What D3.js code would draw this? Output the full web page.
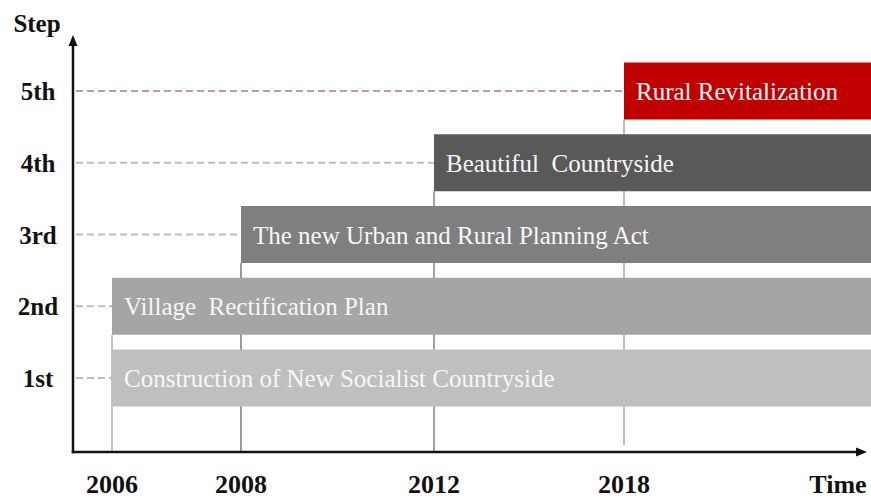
<!DOCTYPE html>
<html>
<head>
<meta charset="utf-8">
<script src="https://cdn.jsdelivr.net/npm/d3@7"></script>
<style>
  html, body { margin: 0; padding: 0; background: #fff; }
  svg { display: block; }
  text { font-family: "Liberation Serif", "Times New Roman", serif; }
</style>
</head>
<body>
<svg id="chart" width="871" height="498"></svg>
<script>
// Policy stages, bottom to top
const steps = ["1st", "2nd", "3rd", "4th", "5th"];
const policies = [
  "Construction of New Socialist Countryside",
  "Village  Rectification Plan",
  "The new Urban and Rural Planning Act",
  "Beautiful  Countryside",
  "Rural Revitalization"
];
const startYears = [2006, 2006, 2008, 2012, 2018];
const yearTicks = [2006, 2008, 2012, 2018];
const barColors = ["#bfbfbf", "#a5a5a5", "#7f7f7f", "#595959", "#c00000"];
const guideColors = ["#bcbcbc", "#bcbcbc", "#bcbcbc", "#bcbcbc", "#c39a9a"];
const yearLineColors = ["#9a9a9a", "#555555", "#666666", "#bdbdbd"];

const W = 871, H = 498;
const originX = 73, axisY = 452, axisTop = 35, axisRight = 867;
const barH = 57;

const svg = d3.select("#chart");

// Uneven year spacing: piecewise-linear time axis
const x = d3.scaleLinear()
  .domain(yearTicks)
  .range([112, 241, 434, 624]);

const y = d3.scalePoint()
  .domain(steps)
  .range([378, 91]);

// Year guide lines: dropping from the top bar that starts in each year down to the axis
const yearLines = yearTicks.map((yr, i) => {
  const idx = d3.max(startYears.map((s, k) => s === yr ? k : -1));
  return { yr, top: y(steps[idx]) + barH / 2, color: yearLineColors[i] };
});
svg.append("g").selectAll("line")
  .data(yearLines)
  .join("line")
  .attr("x1", d => x(d.yr)).attr("x2", d => x(d.yr))
  .attr("y1", d => d.top)
  .attr("y2", d => d.yr === 2018 ? axisY - 7 : axisY)
  .attr("stroke", d => d.color)
  .attr("stroke-width", d => d.yr === 2018 ? 2 : 1.2);

// Dashed leaders from the vertical axis to the start of each bar
svg.append("g").selectAll("line")
  .data(steps)
  .join("line")
  .attr("x1", originX + 3)
  .attr("x2", (d, i) => x(startYears[i]))
  .attr("y1", d => y(d)).attr("y2", d => y(d))
  .attr("stroke", (d, i) => guideColors[i])
  .attr("stroke-width", 2)
  .attr("stroke-dasharray", "7 4");

// Stage bars, running to the right edge
svg.append("g").selectAll("rect")
  .data(steps)
  .join("rect")
  .attr("x", (d, i) => x(startYears[i]))
  .attr("y", d => y(d) - barH / 2)
  .attr("width", (d, i) => W + 10 - x(startYears[i]))
  .attr("height", barH)
  .attr("fill", (d, i) => barColors[i]);

// Bar labels
svg.append("g").selectAll("text")
  .data(steps)
  .join("text")
  .attr("x", (d, i) => x(startYears[i]) + 12)
  .attr("y", d => y(d))
  .attr("dy", "0.36em")
  .attr("fill", "#f7f7f7")
  .attr("font-size", 25)
  .style("white-space", "pre")
  .text((d, i) => policies[i]);

// Axes with arrowheads
const axes = svg.append("g").attr("stroke", "#111");
axes.append("line")
  .attr("x1", originX).attr("x2", originX)
  .attr("y1", axisTop + 8).attr("y2", axisY + 1.25)
  .attr("stroke-width", 2.5);
axes.append("line")
  .attr("x1", originX - 1.25).attr("x2", axisRight - 8)
  .attr("y1", axisY).attr("y2", axisY)
  .attr("stroke-width", 2.5);
svg.append("path")
  .attr("d", `M${originX},${axisTop} L${originX - 4.5},${axisTop + 11} L${originX + 4.5},${axisTop + 11} Z`)
  .attr("fill", "#111");
svg.append("path")
  .attr("d", `M${axisRight},${axisY} L${axisRight - 11},${axisY - 4.5} L${axisRight - 11},${axisY + 4.5} Z`)
  .attr("fill", "#111");

// Step labels on the left
svg.append("g").selectAll("text")
  .data(steps)
  .join("text")
  .attr("x", 38)
  .attr("y", d => y(d))
  .attr("dy", "0.36em")
  .attr("text-anchor", "middle")
  .attr("font-weight", "bold")
  .attr("font-size", 25)
  .attr("fill", "#111")
  .text(d => d);

// Year labels under the axis
svg.append("g").selectAll("text")
  .data(yearTicks)
  .join("text")
  .attr("x", d => x(d))
  .attr("y", 493)
  .attr("text-anchor", "middle")
  .attr("font-weight", "bold")
  .attr("font-size", 26)
  .attr("fill", "#111")
  .text(d => d);

// Axis titles
svg.append("text")
  .attr("x", 37).attr("y", 32)
  .attr("text-anchor", "middle")
  .attr("font-weight", "bold")
  .attr("font-size", 25)
  .attr("fill", "#111")
  .text("Step");
svg.append("text")
  .attr("x", 838).attr("y", 493)
  .attr("text-anchor", "middle")
  .attr("font-weight", "bold")
  .attr("font-size", 26)
  .attr("fill", "#111")
  .text("Time");
</script>
</body>
</html>
